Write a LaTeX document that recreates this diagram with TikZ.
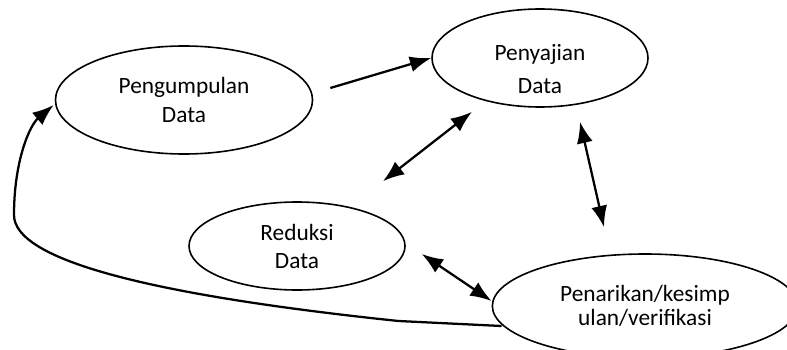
\documentclass[tikz,border=0pt]{standalone}
\usepackage{fontspec}
\setmainfont{Carlito}
\usetikzlibrary{shapes.geometric,arrows.meta,calc}

\begin{document}
\begin{tikzpicture}[
    x=0.75pt, y=-0.75pt,
    >={Latex[length=16pt,width=12pt]},
    font=\fontsize{17.5}{21}\selectfont,
    proc/.style={draw, ellipse, line width=1.2pt, align=center, inner sep=0pt},
    link/.style={line width=1.7pt}
]
    \useasboundingbox (0,0) rectangle (787,349);
    \clip (0,0) rectangle (787,349);

    % Processes
    \node[proc, minimum width=192.8pt, minimum height=81pt] (peng) at (184,100) {Pengumpulan\\[1pt]Data};
    \node[proc, minimum width=162pt, minimum height=73.5pt] (sajian) at (540,58) {};
    \node[align=center] (sajiantext) at (540,69) {Penyajian\\[4pt]Data};
    \node[proc, minimum width=162pt, minimum height=66pt] (reduk) at (297,246) {Reduksi\\Data};
    \node[proc, minimum width=229pt, minimum height=78pt] (penarik) at (645,306) {Penarikan/kesimp\\[-3pt]ulan/verifikasi};

    % Connections
    \draw[link,->] ($(peng.east)+(17,-12)$) -- (sajian.west);
    \draw[link,<->] ($(sajian.south)+(-68,4)$) -- ($(reduk.north)+(86,-20)$);
    \draw[link,<->] ($(sajian.south)+(40,14)$) -- ($(penarik.north)+(-41,-26)$);
    \draw[link,<->] ($(reduk.east)+(16,8)$) -- ($(penarik.west)+(0,-5)$);

    % Back to data collection
    \draw[link,->] ($(penarik.west)+(10,20)$) -- ++(-103,-5)
        .. controls (150,295) and (14,260) .. (14,215)
        .. controls (14,160) and (30,125) .. ($(peng.west)+(-1,5)$);

\end{tikzpicture}
\end{document}
